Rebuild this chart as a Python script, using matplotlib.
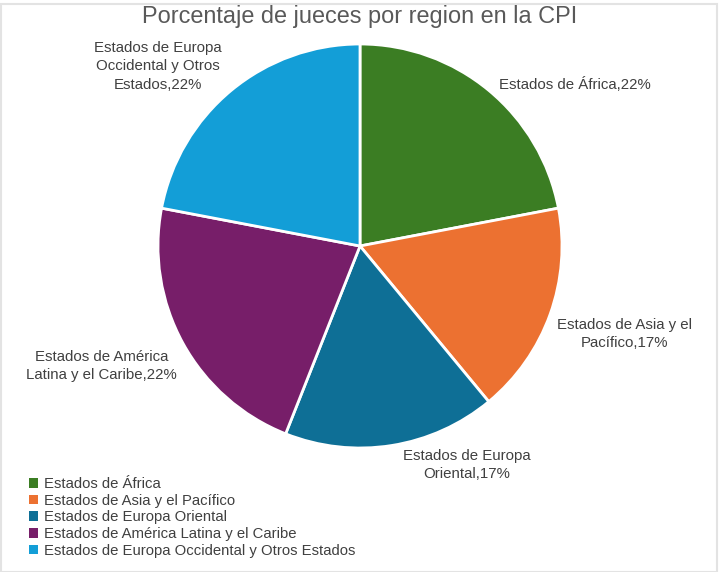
import matplotlib
matplotlib.use("Agg")
import matplotlib.pyplot as plt
from matplotlib.patches import Rectangle, Patch

plt.rcParams['font.family'] = ['Liberation Sans', 'DejaVu Sans']

categories = ["Estados de África", "Estados de Asia y el Pacífico",
              "Estados de Europa Oriental", "Estados de América Latina y el Caribe",
              "Estados de Europa Occidental y Otros Estados"]
values = [22, 17, 17, 22, 22]
label_texts = ["Estados de África,22%", "Estados de Asia y el\nPacífico,17%",
               "Estados de Europa\nOriental,17%", "Estados de América\nLatina y el Caribe,22%",
               "Estados de Europa\nOccidental y Otros\nEstados,22%"]
colors = ["#3B7D23", "#EC7131", "#0E6F96", "#771E69", "#139ED7"]
# label layout positions (axes data units, radius = 1)
label_pos = [(1.064, 0.80), (1.31, -0.435), (0.53, -1.085), (-1.28, -0.595), (-1.0, 0.89)]

W, H = 720, 572
fig = plt.figure(figsize=(W/100, H/100), dpi=100)
cx, cy, r = 360, 246, 202
ax = fig.add_axes([(cx - r)/W, (H - cy - r)/H, 2*r/W, 2*r/H])
wedges, _ = ax.pie(values, colors=colors, startangle=90, counterclock=False,
                   radius=1, wedgeprops=dict(edgecolor='white', linewidth=2))
ax.set_xlim(-1, 1)
ax.set_ylim(-1, 1)
ax.set_aspect('equal')
ax.axis('off')

for txt, (x, y) in zip(label_texts, label_pos):
    ax.text(x, y, txt, ha='center', va='center', fontsize=10.8, color='#404040',
            linespacing=1.42)

fig.text(360/W, 1 - 23/H, "Porcentaje de jueces por region en la CPI", ha='center',
         va='baseline', fontsize=16.9, color='#595959')

handles = [Patch(facecolor=w.get_facecolor(), edgecolor='none') for w in wedges]
leg = fig.legend(handles, categories, loc='upper left', bbox_to_anchor=(29/W, 1 - 477/H),
                 frameon=False, fontsize=10.7, handlelength=0.62, handleheight=0.62,
                 handletextpad=0.4, labelspacing=0.18, borderpad=0, borderaxespad=0)
for t in leg.get_texts():
    t.set_color('#404040')

fig.patches.append(Rectangle((0.5/W, 0.5/H), 1 - 4/W, 1 - 4/H, transform=fig.transFigure,
                             fill=False, edgecolor='#E3E3E3', linewidth=1.5))

fig.savefig("out.png", dpi=100)
